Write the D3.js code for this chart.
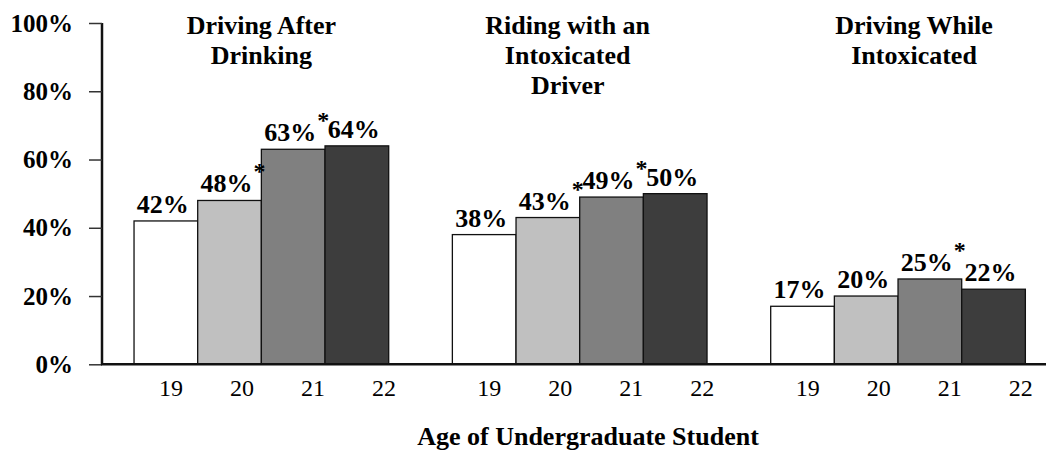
<!DOCTYPE html>
<html><head><meta charset="utf-8">
<script src="https://cdn.jsdelivr.net/npm/d3@7"></script>
<style>body{margin:0;background:#fff}svg{display:block}</style>
</head><body><svg id="c" width="1046" height="450"></svg>
<script>
const groups = ["Driving After Drinking", "Riding with an Intoxicated Driver", "Driving While Intoxicated"];
const groupTitleLines = [["Driving After", "Drinking"], ["Riding with an", "Intoxicated", "Driver"], ["Driving While", "Intoxicated"]];
const ages = ["19", "20", "21", "22"];
const age19 = [42, 38, 17];
const age20 = [48, 43, 20];
const age21 = [63, 49, 25];
const age22 = [64, 50, 22];
const star19 = [false, false, false];
const star20 = [true, true, false];
const star21 = [true, true, true];
const star22 = [false, false, false];
const yTicks = [0, 20, 40, 60, 80, 100];
const xAxisTitle = "Age of Undergraduate Student";

const seriesVals = [age19, age20, age21, age22];
const seriesStars = [star19, star20, star21, star22];
const fills = ["#ffffff", "#c0c0c0", "#808080", "#3d3d3d"];
const titleDx = [0, -12, 16];

const svg = d3.select("#c");
const serif = "'Liberation Serif','Times New Roman',Times,serif";
const y = d3.scaleLinear().domain([0, 100]).range([364.3, 23]);
const xG = d3.scaleBand().domain(groups).range([102.2, 1057.2]).paddingInner(0.2).paddingOuter(0.1);
const xA = d3.scaleBand().domain(ages).range([0, xG.bandwidth()]);
const xL = d3.scalePoint().domain(ages).range([37, 250]);

const data = [];
groups.forEach((g, gi) => ages.forEach((a, ai) => data.push({g, gi, a, ai, v: seriesVals[ai][gi], s: seriesStars[ai][gi]})));

svg.append("g").selectAll("rect").data(data).join("rect")
  .attr("x", d => xG(d.g) + xA(d.a))
  .attr("y", d => y(d.v))
  .attr("width", xA.bandwidth())
  .attr("height", d => y(0) - y(d.v))
  .attr("fill", d => fills[d.ai])
  .attr("stroke", "#111")
  .attr("stroke-width", 1.3);

const lab = svg.append("g").selectAll("g").data(data).join("g");
lab.append("text")
  .attr("x", d => xG(d.g) + xA(d.a) + xA.bandwidth() / 2 - 3)
  .attr("y", d => y(d.v) - 8)
  .attr("text-anchor", "middle")
  .attr("font-family", serif).attr("font-weight", "bold").attr("font-size", 26)
  .text(d => d.v + "%");
lab.each(function(d) {
  if (!d.s) return;
  const t = d3.select(this).select("text");
  const w = t.node().getComputedTextLength();
  const cx = xG(d.g) + xA(d.a) + xA.bandwidth() / 2 - 3;
  d3.select(this).append("text")
    .attr("x", cx + w / 2 + 1)
    .attr("y", y(d.v) - 8 - 13)
    .attr("text-anchor", "start")
    .attr("font-family", serif).attr("font-weight", "bold").attr("font-size", 24)
    .text("*");
});

groups.forEach((g, gi) => {
  const cx = xG(g) + xG.bandwidth() / 2 + titleDx[gi];
  const t = svg.append("text")
    .attr("x", cx).attr("y", 34)
    .attr("text-anchor", "middle")
    .attr("font-family", serif).attr("font-weight", "bold").attr("font-size", 26);
  groupTitleLines[gi].forEach((line, li) => {
    t.append("tspan").attr("x", cx).attr("dy", li === 0 ? 0 : 29.8).text(line);
  });
});

const yAxis = d3.axisLeft(y).tickValues(yTicks).tickFormat(d => d + "%").tickSize(13).tickPadding(16);
const ya = svg.append("g").attr("transform", "translate(102,0)").call(yAxis);
ya.select(".domain").attr("stroke", "#111").attr("stroke-width", 2.5).attr("d", `M0,${y(100)}V${y(0)}`);
ya.selectAll(".tick line").attr("stroke", "#333").attr("stroke-width", 1.5);
ya.selectAll(".tick text").attr("font-family", serif).attr("font-weight", "bold").attr("font-size", 25).attr("fill", "#000").attr("dy", "0.32em");

svg.append("line").attr("x1", 101).attr("x2", 1046).attr("y1", y(0)).attr("y2", y(0))
  .attr("stroke", "#111").attr("stroke-width", 2.5);

groups.forEach(g => {
  svg.append("g").selectAll("text").data(ages).join("text")
    .attr("x", a => xG(g) + xL(a))
    .attr("y", 396)
    .attr("text-anchor", "middle")
    .attr("font-family", serif).attr("font-size", 24)
    .text(a => a);
});

svg.append("text").attr("x", 588).attr("y", 445).attr("text-anchor", "middle")
  .attr("font-family", serif).attr("font-weight", "bold").attr("font-size", 26)
  .text(xAxisTitle);
</script></body></html>
